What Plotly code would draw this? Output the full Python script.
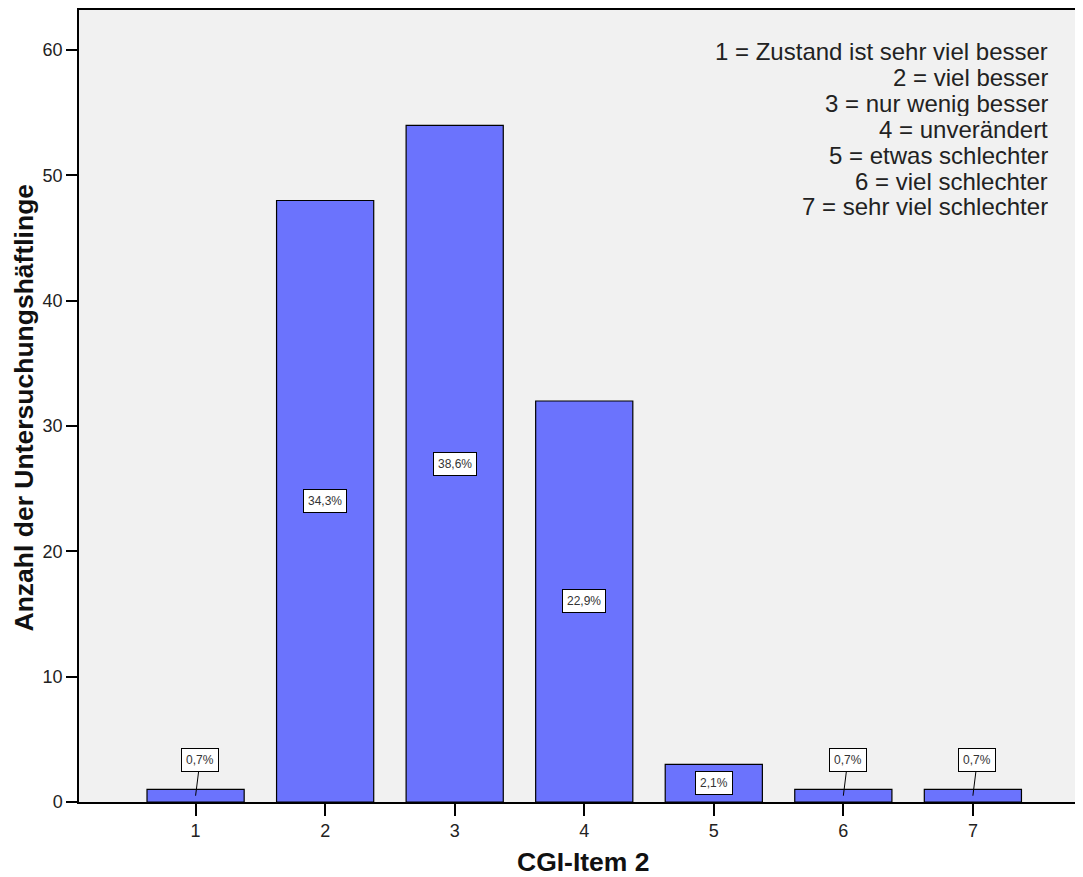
import plotly.graph_objects as go

categories = [1, 2, 3, 4, 5, 6, 7]
counts = [1, 48, 54, 32, 3, 1, 1]
pct_labels = ["0,7%", "34,3%", "38,6%", "22,9%", "2,1%", "0,7%", "0,7%"]
tick_vals_y = [0, 10, 20, 30, 40, 50, 60]
legend_lines = [
    "1 = Zustand ist sehr viel besser",
    "2 = viel besser",
    "3 = nur wenig besser",
    "4 = unverändert",
    "5 = etwas schlechter",
    "6 = viel schlechter",
    "7 = sehr viel schlechter",
]
x_title = "CGI-Item 2"
y_title = "Anzahl der Untersuchungshäftlinge"

FONT = "Arial, Liberation Sans, sans-serif"
BAR_COLOR = "#6b73fd"

# the page body adds an 8px margin; compensate so the figure fills the window
OFF = 8
W, H = 1083 - OFF, 877 - OFF
ML, MR, MT, MB = 79 - OFF, 0, 10 - OFF, 877 - 802
PW, PH = W - ML - MR, H - MT - MB


def px_to_paper_x(px):
    return (px - OFF - ML) / PW


def px_to_paper_y(py):
    return 1 - (py - OFF - MT) / PH


fig = go.Figure()
fig.add_trace(go.Bar(
    x=categories, y=counts, width=0.75,
    marker=dict(color=BAR_COLOR, line=dict(color="black", width=1.2)),
    hoverinfo="x+y", showlegend=False,
))

annotations = []
label_font = dict(family=FONT, size=12, color="#333")
for c, v, lab in zip(categories, counts, pct_labels):
    if v >= 3:
        annotations.append(dict(
            x=c, y=v / 2, xref="x", yref="y", text=lab, showarrow=False,
            font=label_font, bgcolor="white", bordercolor="black",
            borderwidth=1, borderpad=4,
        ))
    else:
        annotations.append(dict(
            x=c, y=v / 2, xref="x", yref="y", text=lab, showarrow=True,
            arrowhead=0, arrowwidth=1, arrowcolor="black",
            ax=4.5, ay=-36,
            font=label_font, bgcolor="white", bordercolor="black",
            borderwidth=1, borderpad=4,
        ))

LINE_STEP = 25.8
for i, line in enumerate(legend_lines):
    annotations.append(dict(
        x=px_to_paper_x(1049), y=px_to_paper_y(52 + LINE_STEP * i),
        xref="paper", yref="paper", xanchor="right", yanchor="middle",
        text=line, showarrow=False, align="right", valign="middle",
        height=25, borderpad=0,
        font=dict(family=FONT, size=24, color="#222"),
    ))

annotations.append(dict(
    x=px_to_paper_x(23.5), y=px_to_paper_y(408), xref="paper", yref="paper",
    xanchor="center", yanchor="middle", textangle=-90, showarrow=False,
    text="<b>" + y_title + "</b>", font=dict(family=FONT, size=26.5, color="#111"),
))
annotations.append(dict(
    x=px_to_paper_x(583), y=px_to_paper_y(862), xref="paper", yref="paper",
    xanchor="center", yanchor="middle", showarrow=False,
    text="<b>" + x_title + "</b>", font=dict(family=FONT, size=26.5, color="#111"),
))

fig.update_layout(
    width=W, height=H,
    margin=dict(l=ML, r=MR, t=MT, b=MB, autoexpand=False),
    paper_bgcolor="white", plot_bgcolor="#f1f1f1",
    annotations=annotations,
    xaxis=dict(
        range=[0.1, 7.85], tickvals=categories, ticktext=[str(c) for c in categories],
        showgrid=False, zeroline=False, showline=True, linecolor="black", linewidth=1.5,
        mirror=True, ticks="outside", ticklen=12, tickcolor="black", tickwidth=1.5,
        tickfont=dict(family=FONT, size=18, color="#222"), automargin=False,
    ),
    yaxis=dict(
        range=[0, 63.2], tickvals=tick_vals_y,
        showgrid=False, zeroline=False, showline=True, linecolor="black", linewidth=1.5,
        ticks="outside", ticklen=11, tickcolor="black", tickwidth=1.5,
        tickfont=dict(family=FONT, size=18, color="#222"), automargin=False,
    ),
)

fig.write_html("out.html")
